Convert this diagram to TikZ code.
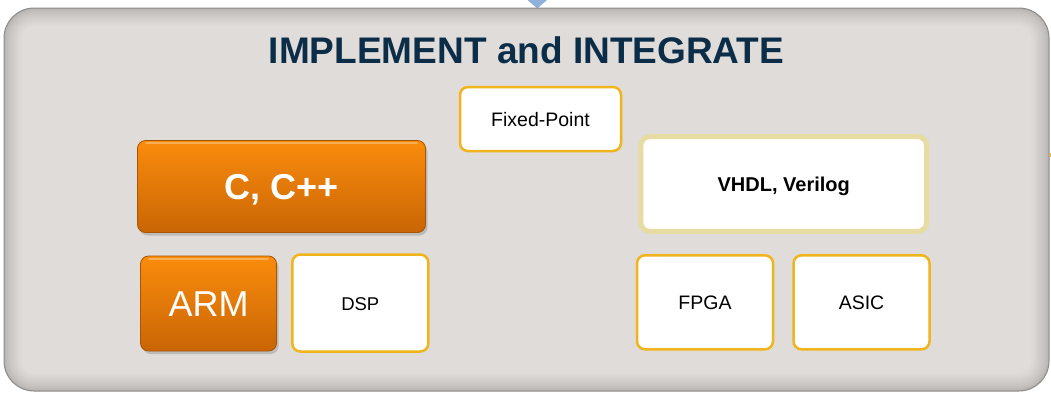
\documentclass[tikz,border=0pt]{standalone}
\usepackage{fontspec}
\setmainfont{Liberation Sans}
\usetikzlibrary{shadows,calc}
\definecolor{panelin}{HTML}{DFDCD9}
\definecolor{panelout}{HTML}{B3AFAC}
\definecolor{paneledge}{HTML}{8E8C8A}
\definecolor{titlecol}{HTML}{0C2D48}
\definecolor{ybord}{HTML}{F0B41C}
\definecolor{kbord}{HTML}{E6DCA2}
\definecolor{otop}{HTML}{FA8C0C}
\definecolor{obot}{HTML}{C96505}
\definecolor{oedge}{HTML}{A85400}
\definecolor{arrowblue}{HTML}{8FB0DA}
\tikzset{
  whitebox/.style={draw=ybord, line width=2.5pt, fill=white, rounded corners=8pt,
    inner sep=0pt, text height=14pt, text depth=0pt,
    font=\fontsize{19.5}{22}\selectfont},
  vhdlbox/.style={draw=kbord, line width=5pt, fill=white, rounded corners=9pt,
    inner sep=0pt, text height=14pt, text depth=0pt,
    font=\bfseries\fontsize{20}{22}\selectfont},
  orangebox/.style={draw=oedge, line width=0.8pt, top color=otop, bottom color=obot,
    rounded corners=8pt, inner sep=0pt, text=white, text height=26pt, text depth=0pt,
    drop shadow={shadow xshift=2pt, shadow yshift=-3pt, opacity=0.35}},
  glint/.style={draw=white, opacity=0.3, line width=2pt, line cap=round},
}
\begin{document}
\begin{tikzpicture}[x=1pt, y=-1pt]
\useasboundingbox (0,0) rectangle (1051,397);
% top arrow tip
\fill[arrowblue] (527.5,0) -- (547,0) -- (537.3,8.5) -- cycle;
% panel with inner shading
\foreach \i in {0,...,18}{
  \pgfmathtruncatemacro\p{100*(\i/18)^0.6}
  \pgfmathsetmacro\r{max(30-\i,10)}
  \fill[panelin!\p!panelout, rounded corners=\r pt] (4+\i,8+\i) rectangle (1049-\i,391-\i);
}
\draw[paneledge, line width=1pt, rounded corners=30pt] (4,8) rectangle (1049,391);
\fill[ybord] (1049.5,153) rectangle (1051,156.5);
% title
\node[anchor=base, text=titlecol, font=\bfseries\fontsize{37}{40}\selectfont, inner sep=0pt]
  (title) at (526.5,63) {IMPLEMENT and INTEGRATE};
% boxes
\node[whitebox, minimum width=161pt, minimum height=64pt] (fixed) at (540.5,119) {Fixed-Point};
\node[orangebox, minimum width=288pt, minimum height=92pt,
  font=\bfseries\fontsize{36}{40}\selectfont] (cpp) at (281.5,186.5) {C, C++};
\node[orangebox, minimum width=136pt, minimum height=95pt,
  font=\fontsize{36}{40}\selectfont] (arm) at (208.5,303.5) {ARM};
\node[whitebox, minimum width=136pt, minimum height=97pt, font=\fontsize{18.5}{22}\selectfont] (dsp) at (360.3,303) {DSP};
\node[vhdlbox, minimum width=285.7pt, minimum height=94.8pt] (vhdl) at (783.7,184) {VHDL, Verilog};
\node[whitebox, minimum width=136pt, minimum height=94pt] (fpga) at (705,302.3) {FPGA};
\node[whitebox, minimum width=136pt, minimum height=94pt] (asic) at (861.5,302.3) {ASIC};
% glossy highlights on the orange boxes
\draw[glint] ($(cpp.north west)+(9,3)$) -- ($(cpp.north east)+(-9,3)$);
\draw[glint] ($(arm.north west)+(9,3)$) -- ($(arm.north east)+(-9,3)$);
\end{tikzpicture}
\end{document}
